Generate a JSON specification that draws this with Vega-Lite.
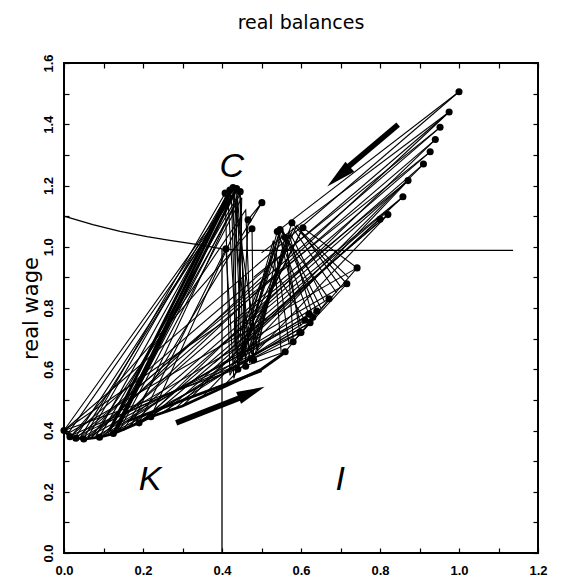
{
  "$schema": "https://vega.github.io/schema/vega-lite/v6.json",
  "autosize": "none",
  "width": 474,
  "height": 490,
  "padding": {"left": 64, "top": 63, "right": 36, "bottom": 29},
  "background": "white",
  "config": {
    "view": {"stroke": "black", "strokeWidth": 2},
    "font": "Liberation Sans"
  },
  "title": {"text": "real balances", "fontSize": 19, "fontWeight": "normal", "font": "DejaVu Sans", "offset": 21, "color": "black"},
  "datasets": {
    "curve": [
      {"x": 0.0, "y": 1.1}, {"x": 0.073, "y": 1.072}, {"x": 0.142, "y": 1.05}, {"x": 0.21, "y": 1.033},
      {"x": 0.268, "y": 1.021}, {"x": 0.344, "y": 1.006}, {"x": 0.40, "y": 0.993}, {"x": 0.45, "y": 0.988}, {"x": 1.137, "y": 0.988}
    ],
    "vline": [{"x": 0.4, "y": 0, "y2": 0.993}],
    "thick": [
      {"p": "t1", "s": 1, "x": 0.115, "y": 0.40}, {"p": "t1", "s": 2, "x": 0.42, "y": 1.185},
      {"p": "t2", "s": 1, "x": 0.125, "y": 0.39}, {"p": "t2", "s": 2, "x": 0.428, "y": 1.193},
      {"p": "t3", "s": 1, "x": 0.135, "y": 0.405}, {"p": "t3", "s": 2, "x": 0.437, "y": 1.19},
      {"p": "t4", "s": 1, "x": 0.0, "y": 0.40}, {"p": "t4", "s": 2, "x": 0.015, "y": 0.38}, {"p": "t4", "s": 3, "x": 0.05, "y": 0.372},
      {"p": "t4", "s": 4, "x": 0.09, "y": 0.378}, {"p": "t4", "s": 5, "x": 0.125, "y": 0.39}, {"p": "t4", "s": 6, "x": 0.19, "y": 0.425},
      {"p": "t4", "s": 7, "x": 0.22, "y": 0.445}, {"p": "t4", "s": 8, "x": 0.30, "y": 0.48}, {"p": "t4", "s": 9, "x": 0.41, "y": 0.545},
      {"p": "t4", "s": 10, "x": 0.50, "y": 0.60}, {"p": "t4", "s": 11, "x": 0.56, "y": 0.655},
      {"p": "t5", "s": 1, "x": 0.16, "y": 0.43}, {"p": "t5", "s": 2, "x": 0.50, "y": 0.595}
    ],
    "thin": [
      {"p": "f1", "s": 1, "x": 0.0, "y": 0.40}, {"p": "f1", "s": 2, "x": 1.0, "y": 1.506},
      {"p": "f2", "s": 1, "x": 0.02, "y": 0.385}, {"p": "f2", "s": 2, "x": 0.975, "y": 1.44},
      {"p": "f3", "s": 1, "x": 0.04, "y": 0.375}, {"p": "f3", "s": 2, "x": 0.952, "y": 1.39},
      {"p": "f4", "s": 1, "x": 0.06, "y": 0.378}, {"p": "f4", "s": 2, "x": 0.94, "y": 1.35},
      {"p": "f5", "s": 1, "x": 0.09, "y": 0.38}, {"p": "f5", "s": 2, "x": 0.927, "y": 1.31},
      {"p": "f6", "s": 1, "x": 0.125, "y": 0.39}, {"p": "f6", "s": 2, "x": 0.91, "y": 1.27},
      {"p": "f7", "s": 1, "x": 0.16, "y": 0.41}, {"p": "f7", "s": 2, "x": 0.871, "y": 1.216},
      {"p": "f8", "s": 1, "x": 0.19, "y": 0.425}, {"p": "f8", "s": 2, "x": 0.858, "y": 1.163},
      {"p": "f9", "s": 1, "x": 0.22, "y": 0.445}, {"p": "f9", "s": 2, "x": 0.82, "y": 1.105},
      {"p": "f10", "s": 1, "x": 0.26, "y": 0.465}, {"p": "f10", "s": 2, "x": 0.80, "y": 1.09},
      {"p": "f11", "s": 1, "x": 0.01, "y": 0.39}, {"p": "f11", "s": 2, "x": 0.742, "y": 0.931},
      {"p": "f12", "s": 1, "x": 0.05, "y": 0.38}, {"p": "f12", "s": 2, "x": 0.716, "y": 0.879},
      {"p": "f13", "s": 1, "x": 0.10, "y": 0.385}, {"p": "f13", "s": 2, "x": 0.671, "y": 0.83},
      {"p": "f14", "s": 1, "x": 0.15, "y": 0.40}, {"p": "f14", "s": 2, "x": 0.623, "y": 0.752},
      {"p": "f15", "s": 1, "x": 0.03, "y": 0.38}, {"p": "f15", "s": 2, "x": 0.597, "y": 0.719},
      {"p": "f16", "s": 1, "x": 0.08, "y": 0.38}, {"p": "f16", "s": 2, "x": 0.64, "y": 0.79},
      {"p": "f17", "s": 1, "x": 0.30, "y": 0.48}, {"p": "f17", "s": 2, "x": 0.91, "y": 1.27},
      {"p": "f18", "s": 1, "x": 0.35, "y": 0.51}, {"p": "f18", "s": 2, "x": 0.871, "y": 1.216},
      {"p": "f19", "s": 1, "x": 0.40, "y": 0.54}, {"p": "f19", "s": 2, "x": 0.82, "y": 1.105},
      {"p": "f20", "s": 1, "x": 0.03, "y": 0.375}, {"p": "f20", "s": 2, "x": 0.45, "y": 0.82},
      {"p": "f21", "s": 1, "x": 0.07, "y": 0.378}, {"p": "f21", "s": 2, "x": 0.50, "y": 0.90},
      {"p": "f22", "s": 1, "x": 0.0, "y": 0.40}, {"p": "f22", "s": 2, "x": 0.40, "y": 0.75},
      {"p": "f23", "s": 1, "x": 0.0, "y": 0.40}, {"p": "f23", "s": 2, "x": 0.56, "y": 0.657},
      {"p": "f24", "s": 1, "x": 0.02, "y": 0.385}, {"p": "f24", "s": 2, "x": 0.58, "y": 0.69},
      {"p": "f25", "s": 1, "x": 0.06, "y": 0.378}, {"p": "f25", "s": 2, "x": 0.61, "y": 0.76},
      {"p": "f26", "s": 1, "x": 0.12, "y": 0.39}, {"p": "f26", "s": 2, "x": 0.60, "y": 0.72},
      {"p": "f27", "s": 1, "x": 0.20, "y": 0.43}, {"p": "f27", "s": 2, "x": 0.62, "y": 0.78},
      {"p": "f28", "s": 1, "x": 0.25, "y": 0.46}, {"p": "f28", "s": 2, "x": 0.63, "y": 0.77},
      {"p": "f29", "s": 1, "x": 0.10, "y": 0.385}, {"p": "f29", "s": 2, "x": 0.975, "y": 1.44},
      {"p": "f30", "s": 1, "x": 0.20, "y": 0.43}, {"p": "f30", "s": 2, "x": 0.94, "y": 1.35},
      {"p": "f31", "s": 1, "x": 0.28, "y": 0.47}, {"p": "f31", "s": 2, "x": 0.858, "y": 1.163},
      {"p": "g1", "s": 1, "x": 1.0, "y": 1.506}, {"p": "g1", "s": 2, "x": 0.55, "y": 1.06},
      {"p": "g2", "s": 1, "x": 0.975, "y": 1.44}, {"p": "g2", "s": 2, "x": 0.50, "y": 0.98},
      {"p": "g3", "s": 1, "x": 0.952, "y": 1.39}, {"p": "g3", "s": 2, "x": 0.48, "y": 0.90},
      {"p": "g4", "s": 1, "x": 0.927, "y": 1.31}, {"p": "g4", "s": 2, "x": 0.45, "y": 0.82},
      {"p": "g5", "s": 1, "x": 0.871, "y": 1.216}, {"p": "g5", "s": 2, "x": 0.43, "y": 0.75},
      {"p": "g6", "s": 1, "x": 0.858, "y": 1.163}, {"p": "g6", "s": 2, "x": 0.40, "y": 0.68},
      {"p": "g7", "s": 1, "x": 0.82, "y": 1.105}, {"p": "g7", "s": 2, "x": 0.38, "y": 0.62},
      {"p": "A1", "s": 1, "x": 0.125, "y": 0.39}, {"p": "A1", "s": 2, "x": 0.428, "y": 1.193}, {"p": "A1", "s": 3, "x": 0.44, "y": 0.60}, {"p": "A1", "s": 4, "x": 0.547, "y": 1.056}, {"p": "A1", "s": 5, "x": 0.671, "y": 0.83}, {"p": "A1", "s": 6, "x": 0.56, "y": 0.657},
      {"p": "A2", "s": 1, "x": 0.09, "y": 0.38}, {"p": "A2", "s": 2, "x": 0.446, "y": 1.18}, {"p": "A2", "s": 3, "x": 0.46, "y": 0.61}, {"p": "A2", "s": 4, "x": 0.577, "y": 1.078}, {"p": "A2", "s": 5, "x": 0.716, "y": 0.879}, {"p": "A2", "s": 6, "x": 0.58, "y": 0.69},
      {"p": "A3", "s": 1, "x": 0.05, "y": 0.375}, {"p": "A3", "s": 2, "x": 0.408, "y": 1.175}, {"p": "A3", "s": 3, "x": 0.42, "y": 0.58}, {"p": "A3", "s": 4, "x": 0.605, "y": 1.062}, {"p": "A3", "s": 5, "x": 0.742, "y": 0.931}, {"p": "A3", "s": 6, "x": 0.60, "y": 0.72},
      {"p": "A4", "s": 1, "x": 0.15, "y": 0.40}, {"p": "A4", "s": 2, "x": 0.501, "y": 1.144}, {"p": "A4", "s": 3, "x": 0.466, "y": 1.088}, {"p": "A4", "s": 4, "x": 0.45, "y": 0.62}, {"p": "A4", "s": 5, "x": 0.623, "y": 0.752},
      {"p": "A5", "s": 1, "x": 0.02, "y": 0.385}, {"p": "A5", "s": 2, "x": 0.476, "y": 1.059}, {"p": "A5", "s": 3, "x": 0.48, "y": 0.63}, {"p": "A5", "s": 4, "x": 0.56, "y": 1.03}, {"p": "A5", "s": 5, "x": 0.597, "y": 0.719},
      {"p": "A6", "s": 1, "x": 0.19, "y": 0.425}, {"p": "A6", "s": 2, "x": 0.41, "y": 0.993}, {"p": "A6", "s": 3, "x": 0.43, "y": 0.57}, {"p": "A6", "s": 4, "x": 0.53, "y": 1.02}, {"p": "A6", "s": 5, "x": 0.55, "y": 0.65},
      {"p": "A7", "s": 1, "x": 0.0, "y": 0.40}, {"p": "A7", "s": 2, "x": 0.437, "y": 1.19}, {"p": "A7", "s": 3, "x": 0.455, "y": 0.64}, {"p": "A7", "s": 4, "x": 0.54, "y": 1.05}, {"p": "A7", "s": 5, "x": 0.62, "y": 0.78},
      {"p": "A8", "s": 1, "x": 0.06, "y": 0.378}, {"p": "A8", "s": 2, "x": 0.42, "y": 1.185}, {"p": "A8", "s": 3, "x": 0.47, "y": 0.66}, {"p": "A8", "s": 4, "x": 0.565, "y": 1.0}, {"p": "A8", "s": 5, "x": 0.58, "y": 0.70},
      {"p": "A9", "s": 1, "x": 0.22, "y": 0.445}, {"p": "A9", "s": 2, "x": 0.45, "y": 1.10}, {"p": "A9", "s": 3, "x": 0.44, "y": 0.70}, {"p": "A9", "s": 4, "x": 0.52, "y": 0.95}, {"p": "A9", "s": 5, "x": 0.61, "y": 0.76},
      {"p": "A10", "s": 1, "x": 0.03, "y": 0.38}, {"p": "A10", "s": 2, "x": 0.43, "y": 1.17}, {"p": "A10", "s": 3, "x": 0.49, "y": 0.66}, {"p": "A10", "s": 4, "x": 0.55, "y": 1.06}, {"p": "A10", "s": 5, "x": 0.64, "y": 0.79},
      {"p": "A11", "s": 1, "x": 0.11, "y": 0.385}, {"p": "A11", "s": 2, "x": 0.44, "y": 1.15}, {"p": "A11", "s": 3, "x": 0.47, "y": 0.62}, {"p": "A11", "s": 4, "x": 0.57, "y": 1.04}, {"p": "A11", "s": 5, "x": 0.63, "y": 0.77},
      {"p": "A12", "s": 1, "x": 0.17, "y": 0.415}, {"p": "A12", "s": 2, "x": 0.425, "y": 1.12}, {"p": "A12", "s": 3, "x": 0.435, "y": 0.65}, {"p": "A12", "s": 4, "x": 0.535, "y": 1.0}, {"p": "A12", "s": 5, "x": 0.57, "y": 0.68},
      {"p": "A13", "s": 1, "x": 0.04, "y": 0.375}, {"p": "A13", "s": 2, "x": 0.432, "y": 1.18}, {"p": "A13", "s": 3, "x": 0.45, "y": 0.63}, {"p": "A13", "s": 4, "x": 0.545, "y": 1.04}, {"p": "A13", "s": 5, "x": 0.60, "y": 0.74},
      {"p": "A14", "s": 1, "x": 0.08, "y": 0.38}, {"p": "A14", "s": 2, "x": 0.415, "y": 1.16}, {"p": "A14", "s": 3, "x": 0.44, "y": 0.61}, {"p": "A14", "s": 4, "x": 0.555, "y": 1.05}, {"p": "A14", "s": 5, "x": 0.65, "y": 0.80},
      {"p": "A15", "s": 1, "x": 0.13, "y": 0.395}, {"p": "A15", "s": 2, "x": 0.445, "y": 1.17}, {"p": "A15", "s": 3, "x": 0.46, "y": 0.64}, {"p": "A15", "s": 4, "x": 0.58, "y": 1.06}, {"p": "A15", "s": 5, "x": 0.69, "y": 0.85},
      {"p": "A16", "s": 1, "x": 0.01, "y": 0.39}, {"p": "A16", "s": 2, "x": 0.438, "y": 1.185}, {"p": "A16", "s": 3, "x": 0.43, "y": 0.62}, {"p": "A16", "s": 4, "x": 0.59, "y": 1.07}, {"p": "A16", "s": 5, "x": 0.70, "y": 0.87},
      {"p": "A17", "s": 1, "x": 0.07, "y": 0.378}, {"p": "A17", "s": 2, "x": 0.46, "y": 1.12}, {"p": "A17", "s": 3, "x": 0.475, "y": 0.65}, {"p": "A17", "s": 4, "x": 0.57, "y": 1.05}, {"p": "A17", "s": 5, "x": 0.66, "y": 0.82},
      {"p": "A18", "s": 1, "x": 0.14, "y": 0.40}, {"p": "A18", "s": 2, "x": 0.45, "y": 1.16}, {"p": "A18", "s": 3, "x": 0.44, "y": 0.64}, {"p": "A18", "s": 4, "x": 0.60, "y": 1.05}, {"p": "A18", "s": 5, "x": 0.72, "y": 0.90}
    ],
    "dots": [
      {"x": 1.0, "y": 1.506}, {"x": 0.975, "y": 1.44}, {"x": 0.952, "y": 1.39}, {"x": 0.94, "y": 1.35}, {"x": 0.927, "y": 1.31},
      {"x": 0.91, "y": 1.27}, {"x": 0.871, "y": 1.216}, {"x": 0.858, "y": 1.163}, {"x": 0.82, "y": 1.105}, {"x": 0.80, "y": 1.09},
      {"x": 0.742, "y": 0.931}, {"x": 0.716, "y": 0.879}, {"x": 0.671, "y": 0.83}, {"x": 0.623, "y": 0.752}, {"x": 0.597, "y": 0.719},
      {"x": 0.56, "y": 0.657}, {"x": 0.64, "y": 0.79}, {"x": 0.63, "y": 0.77}, {"x": 0.61, "y": 0.76}, {"x": 0.62, "y": 0.78},
      {"x": 0.58, "y": 0.69}, {"x": 0.60, "y": 0.72},
      {"x": 0.428, "y": 1.193}, {"x": 0.446, "y": 1.18}, {"x": 0.408, "y": 1.175}, {"x": 0.437, "y": 1.19}, {"x": 0.42, "y": 1.185},
      {"x": 0.501, "y": 1.144}, {"x": 0.466, "y": 1.088}, {"x": 0.476, "y": 1.059}, {"x": 0.547, "y": 1.056}, {"x": 0.577, "y": 1.078},
      {"x": 0.605, "y": 1.062}, {"x": 0.41, "y": 0.993}, {"x": 0.54, "y": 1.05}, {"x": 0.56, "y": 1.03},
      {"x": 0.0, "y": 0.40}, {"x": 0.015, "y": 0.38}, {"x": 0.03, "y": 0.375}, {"x": 0.05, "y": 0.372}, {"x": 0.09, "y": 0.378},
      {"x": 0.125, "y": 0.39}, {"x": 0.19, "y": 0.425}, {"x": 0.22, "y": 0.445},
      {"x": 0.44, "y": 0.60}, {"x": 0.46, "y": 0.61}, {"x": 0.48, "y": 0.63}
    ],
    "letters": [
      {"x": 0.425, "y": 1.261, "t": "C"},
      {"x": 0.218, "y": 0.239, "t": "K"},
      {"x": 0.699, "y": 0.239, "t": "I"}
    ],
    "shafts": [
      {"a": "down", "x": 0.846, "y": 1.399, "x2": 0.711, "y2": 1.252},
      {"a": "up", "x": 0.284, "y": 0.425, "x2": 0.458, "y2": 0.513}
    ],
    "heads": [
      {"a": "down", "x": 0.695, "y": 1.229},
      {"a": "up", "x": 0.475, "y": 0.5245}
    ]
  },
  "resolve": {"axis": {"x": "independent", "y": "independent"}},
  "layer": [
    {
      "data": {"name": "curve"},
      "mark": {"type": "line", "color": "black", "strokeWidth": 1.3},
      "encoding": {
        "x": {"field": "x", "type": "quantitative", "scale": {"domain": [0, 1.2], "nice": false, "zero": false},
          "axis": {"orient": "bottom", "values": [0, 0.1, 0.2, 0.3, 0.4, 0.5, 0.6, 0.7, 0.8, 0.9, 1.0, 1.1, 1.2],
            "format": ".1f", "labelExpr": "round(datum.value*10)%2==0 ? datum.label : ''",
            "tickSize": -5, "tickColor": "black", "tickWidth": 1.2, "domain": false, "grid": false,
            "labelFontSize": 13, "labelFontWeight": "bold", "labelColor": "black", "labelPadding": 16, "title": null, "labelFlush": false}},
        "y": {"field": "y", "type": "quantitative", "scale": {"domain": [0, 1.6], "nice": false, "zero": false},
          "axis": {"orient": "left", "values": [0, 0.1, 0.2, 0.3, 0.4, 0.5, 0.6, 0.7, 0.8, 0.9, 1.0, 1.1, 1.2, 1.3, 1.4, 1.5, 1.6],
            "format": ".1f", "labelExpr": "round(datum.value*10)%2==0 ? datum.label : ''",
            "tickSize": -5, "tickColor": "black", "tickWidth": 1.2, "domain": false, "grid": false,
            "labelFontSize": 13, "labelFontWeight": "bold", "labelColor": "black", "labelAngle": -90, "labelPadding": 14, "labelFlush": false,
            "title": "real wage", "titleFontSize": 21, "titleFontWeight": "normal", "titleFont": "DejaVu Sans", "titleColor": "black", "titlePadding": 1}}
      }
    },
    {
      "data": {"name": "vline"},
      "mark": {"type": "rule", "color": "black", "strokeWidth": 1.3},
      "encoding": {
        "x": {"field": "x", "type": "quantitative", "axis": null},
        "y": {"field": "y", "type": "quantitative", "axis": null},
        "y2": {"field": "y2"}
      }
    },
    {
      "data": {"name": "thin"},
      "mark": {"type": "line", "color": "black", "strokeWidth": 1.1},
      "encoding": {
        "x": {"field": "x", "type": "quantitative", "axis": null},
        "y": {"field": "y", "type": "quantitative", "axis": null},
        "detail": {"field": "p"},
        "order": {"field": "s"}
      }
    },
    {
      "data": {"name": "thick"},
      "mark": {"type": "line", "color": "black", "strokeWidth": 2.8},
      "encoding": {
        "x": {"field": "x", "type": "quantitative", "axis": null},
        "y": {"field": "y", "type": "quantitative", "axis": null},
        "detail": {"field": "p"},
        "order": {"field": "s"}
      }
    },
    {
      "data": {"name": "dots"},
      "mark": {"type": "point", "filled": true, "color": "black", "size": 50, "opacity": 1},
      "encoding": {
        "x": {"field": "x", "type": "quantitative",
          "axis": {"orient": "top", "values": [0, 0.1, 0.2, 0.3, 0.4, 0.5, 0.6, 0.7, 0.8, 0.9, 1.0, 1.1, 1.2],
            "labels": false, "tickSize": -5, "tickColor": "black", "tickWidth": 1.2, "domain": false, "grid": false, "title": null}},
        "y": {"field": "y", "type": "quantitative",
          "axis": {"orient": "right", "values": [0, 0.1, 0.2, 0.3, 0.4, 0.5, 0.6, 0.7, 0.8, 0.9, 1.0, 1.1, 1.2, 1.3, 1.4, 1.5, 1.6],
            "labels": false, "tickSize": -5, "tickColor": "black", "tickWidth": 1.2, "domain": false, "grid": false, "title": null}}
      }
    },
    {
      "data": {"name": "letters"},
      "mark": {"type": "text", "fontSize": 34, "fontStyle": "italic", "font": "Liberation Sans", "color": "black", "align": "center", "baseline": "middle"},
      "encoding": {
        "x": {"field": "x", "type": "quantitative", "axis": null},
        "y": {"field": "y", "type": "quantitative", "axis": null},
        "text": {"field": "t"}
      }
    },
    {
      "data": {"name": "shafts"},
      "mark": {"type": "rule", "color": "black", "strokeWidth": 5.5},
      "encoding": {
        "x": {"field": "x", "type": "quantitative", "axis": null},
        "y": {"field": "y", "type": "quantitative", "axis": null},
        "x2": {"field": "x2"},
        "y2": {"field": "y2"}
      }
    },
    {
      "data": {"name": "heads"},
      "transform": [{"filter": "datum.a == 'down'"}],
      "mark": {"type": "point", "filled": true, "color": "black", "opacity": 1, "size": 900, "angle": 229, "shape": "M0,-1L0.45,1L-0.45,1Z"},
      "encoding": {
        "x": {"field": "x", "type": "quantitative", "axis": null},
        "y": {"field": "y", "type": "quantitative", "axis": null}
      }
    },
    {
      "data": {"name": "heads"},
      "transform": [{"filter": "datum.a == 'up'"}],
      "mark": {"type": "point", "filled": true, "color": "black", "opacity": 1, "size": 800, "angle": 67, "shape": "M0,-1L0.45,1L-0.45,1Z"},
      "encoding": {
        "x": {"field": "x", "type": "quantitative", "axis": null},
        "y": {"field": "y", "type": "quantitative", "axis": null}
      }
    }
  ]
}
